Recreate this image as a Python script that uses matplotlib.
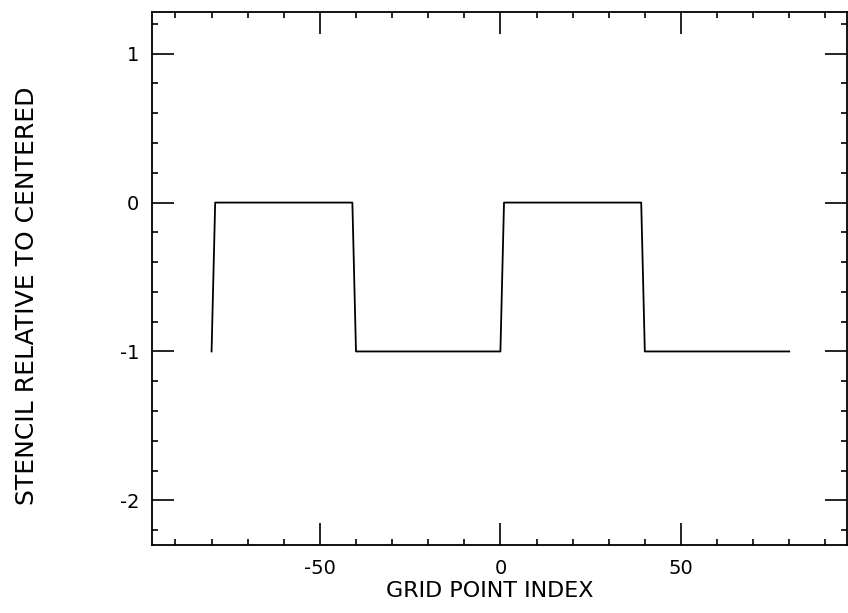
import numpy as np
import matplotlib.pyplot as plt
from matplotlib.ticker import MultipleLocator

# Stencil offset (relative to centered) at each grid point index
grid_index = list(range(-80, 81))
stencil = ([-1] * 1          # -80
           + [0] * 39        # -79 .. -41
           + [-1] * 41       # -40 .. 0
           + [0] * 39        # 1 .. 39
           + [-1] * 41)      # 40 .. 80

x_ticks = [-50, 0, 50]
y_ticks = [-2, -1, 0, 1]

plt.rcParams['font.family'] = ['DejaVu Sans']

W, H = 848, 613
fig = plt.figure(figsize=(W / 100, H / 100), dpi=100)
ax = fig.add_axes([152 / W, 1 - 545 / H, (847 - 152) / W, (545 - 12) / H])

ax.plot(grid_index, stencil, color='black', lw=1.3)

ax.set_xlim(-96.5, 96)
ax.set_ylim(-2.3, 1.28)

ax.set_xticks(x_ticks)
ax.set_yticks(y_ticks)
ax.xaxis.set_minor_locator(MultipleLocator(10))
ax.yaxis.set_minor_locator(MultipleLocator(0.2))

ax.tick_params(which='both', direction='in', top=True, right=True,
               color='black', width=1.2)
ax.tick_params(which='major', length=16, labelsize=14, pad=9)
ax.tick_params(which='minor', length=4.5)
ax.tick_params(axis='x', which='major', pad=10)

ax.set_xticklabels([f"{v}" for v in x_ticks])
ax.set_yticklabels([f"{v}" for v in y_ticks])

for s in ax.spines.values():
    s.set_linewidth(1.3)
    s.set_color('black')

ax.set_xlabel('GRID POINT INDEX', fontsize=16)
ax.set_ylabel('STENCIL RELATIVE TO CENTERED', fontsize=18)
ax.xaxis.set_label_coords(0.486, -0.068)
ax.yaxis.set_label_coords(-0.162, 0.467)

fig.savefig('out.png', dpi=100)
